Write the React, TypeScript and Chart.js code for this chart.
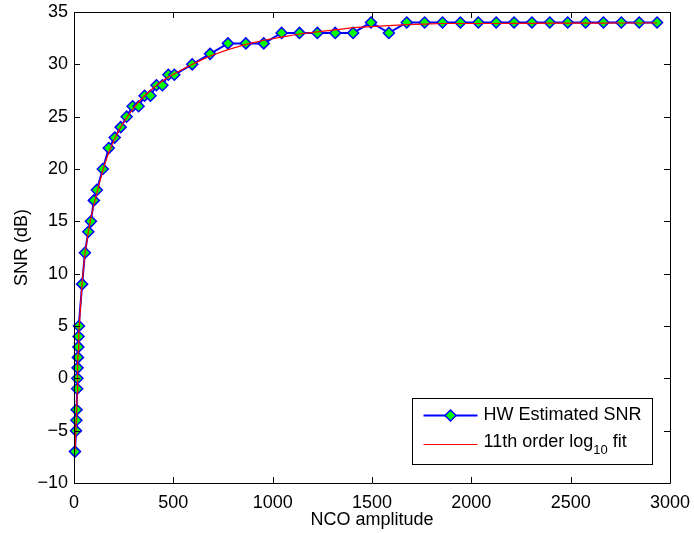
import React, { useEffect, useRef } from 'react';
import { Chart, registerables } from 'chart.js';

Chart.register(...registerables);

// NCO amplitude (x) and measured SNR (dB)
const snrX = [
  5, 10, 12, 13, 16, 17, 18, 20, 22, 23, 25,
  41, 55, 72, 85, 100, 115,
  145, 175, 205, 235, 265, 295, 325, 355, 385, 415, 445, 475, 505,
  595, 685, 775, 865, 955, 1045, 1135, 1225, 1315, 1405, 1495, 1585, 1675,
  1765, 1855, 1945, 2035, 2125, 2215, 2305, 2395, 2485, 2575, 2665, 2755, 2845, 2935,
];
const snrY = [
  -7, -5, -4, -3, -1, 0, 1, 2, 3, 4, 5,
  9, 12, 14, 15, 17, 18,
  20, 22, 23, 24, 25, 26, 26, 27, 27, 28, 28, 29, 29,
  30, 31, 32, 32, 32, 33, 33, 33, 33, 33, 34, 33, 34,
  34, 34, 34, 34, 34, 34, 34, 34, 34, 34, 34, 34, 34, 34,
];

// 11th order log10 fit
const fitX = snrX;
const fitY = [
  -7.0, -4.8, -3.8, -3.2, -1.4, -0.6, 0.1, 1.5, 2.7, 3.3, 4.3,
  9.2, 11.9, 14.0, 15.3, 16.6, 17.7,
  19.9, 21.6, 22.9, 24.0, 24.9, 25.7, 26.4, 27.0, 27.5, 28.0, 28.4, 28.8, 29.1,
  30.0, 30.8, 31.4, 31.9, 32.3, 32.6, 32.9, 33.1, 33.3, 33.5, 33.6, 33.7, 33.8,
  33.85, 33.9, 33.9, 33.9, 33.9, 33.92, 33.92, 33.93, 33.93, 33.94, 33.94, 33.95, 33.95, 33.95,
];

const xTicks = [0, 500, 1000, 1500, 2000, 2500, 3000];
const yTicks = [-10, -5, 0, 5, 10, 15, 20, 25, 30, 35];

const xTitle = 'NCO amplitude';
const yTitle = 'SNR (dB)';
const legendLabels = ['HW Estimated SNR', '11th order log', '10', ' fit'];

const FONT = '"Liberation Sans", Arial, Helvetica, sans-serif';

const boxPlugin = {
  id: 'matlabBox',
  afterDraw(chart: any) {
    const { ctx, chartArea: a, scales } = chart;
    const xs = scales.x;
    const ys = scales.y;
    ctx.save();
    ctx.strokeStyle = '#000';
    ctx.lineWidth = 1;
    ctx.beginPath();
    ctx.rect(Math.round(a.left) + 0.5, Math.round(a.top) + 0.5, Math.round(a.right - a.left), Math.round(a.bottom - a.top));
    ctx.stroke();
    const tl = 6;
    ctx.beginPath();
    xTicks.forEach((v) => {
      const px = Math.round(xs.getPixelForValue(v)) + 0.5;
      ctx.moveTo(px, a.bottom);
      ctx.lineTo(px, a.bottom - tl);
      ctx.moveTo(px, a.top);
      ctx.lineTo(px, a.top + tl);
    });
    yTicks.forEach((v) => {
      const py = Math.round(ys.getPixelForValue(v)) + 0.5;
      ctx.moveTo(a.left, py);
      ctx.lineTo(a.left + tl, py);
      ctx.moveTo(a.right, py);
      ctx.lineTo(a.right - tl, py);
    });
    ctx.stroke();

    // legend
    const lw = 240;
    const lh = 66;
    const lx = Math.round(a.right - 18 - lw) + 0.5;
    const ly = Math.round(a.bottom - 19 - lh) + 0.5;
    ctx.fillStyle = '#fff';
    ctx.fillRect(lx, ly, lw, lh);
    ctx.strokeStyle = '#000';
    ctx.strokeRect(lx, ly, lw, lh);
    const r1 = ly + 17;
    const r2 = ly + 46;
    const sx0 = lx + 11;
    const sx1 = lx + 65;
    ctx.strokeStyle = '#0000ff';
    ctx.lineWidth = 2;
    ctx.beginPath();
    ctx.moveTo(sx0, r1);
    ctx.lineTo(sx1, r1);
    ctx.stroke();
    const mx = (sx0 + sx1) / 2;
    const mr = 5.5;
    ctx.beginPath();
    ctx.moveTo(mx, r1 - mr);
    ctx.lineTo(mx + mr, r1);
    ctx.lineTo(mx, r1 + mr);
    ctx.lineTo(mx - mr, r1);
    ctx.closePath();
    ctx.fillStyle = '#00ff00';
    ctx.fill();
    ctx.lineWidth = 1.5;
    ctx.stroke();
    ctx.strokeStyle = '#ff0000';
    ctx.lineWidth = 1.2;
    ctx.beginPath();
    ctx.moveTo(sx0, r2);
    ctx.lineTo(sx1, r2);
    ctx.stroke();

    ctx.fillStyle = '#000';
    ctx.textBaseline = 'middle';
    ctx.textAlign = 'left';
    ctx.font = `18px ${FONT}`;
    const tx = lx + 71;
    ctx.fillText(legendLabels[0], tx, r1);
    ctx.fillText(legendLabels[1], tx, r2 - 2);
    let w = ctx.measureText(legendLabels[1]).width;
    ctx.font = `13px ${FONT}`;
    ctx.fillText(legendLabels[2], tx + w, r2 + 6);
    const w2 = ctx.measureText(legendLabels[2]).width;
    ctx.font = `18px ${FONT}`;
    ctx.fillText(legendLabels[3], tx + w + w2, r2 - 2);
    ctx.restore();
  },
};

export default function App() {
  const ref = useRef<HTMLCanvasElement | null>(null);

  useEffect(() => {
    document.body.style.margin = '0';
    const canvas = ref.current;
    if (!canvas) return;
    const chart = new Chart(canvas, {
      type: 'line',
      data: {
        datasets: [
          {
            label: 'fit',
            data: fitX.map((x, i) => ({ x, y: fitY[i] })),
            borderColor: '#ff0000',
            borderWidth: 1.2,
            pointRadius: 0,
            tension: 0,
            clip: false as any,
          },
          {
            label: 'HW Estimated SNR',
            data: snrX.map((x, i) => ({ x, y: snrY[i] })),
            borderColor: '#0000ff',
            borderWidth: 2,
            pointStyle: 'rectRot',
            pointRadius: 5.5,
            pointBackgroundColor: '#00ff00',
            pointBorderColor: '#0000ff',
            pointBorderWidth: 1.5,
            tension: 0,
            clip: false as any,
          },
        ],
      },
      options: {
        animation: false,
        responsive: false,
        devicePixelRatio: 1,
        layout: { padding: { top: 12, right: 24, left: 0, bottom: 0 } },
        plugins: {
          legend: { display: false },
          tooltip: { enabled: false },
        },
        scales: {
          x: {
            type: 'linear',
            min: 0,
            max: 3000,
            afterBuildTicks: (s: any) => {
              s.ticks = xTicks.map((v) => ({ value: v }));
            },
            afterFit: (s: any) => {
              s.height = 50;
              s.paddingLeft = 0;
              s.paddingRight = 0;
            },
            grid: { display: false, drawTicks: false },
            border: { display: false },
            ticks: {
              color: '#000',
              padding: 9,
              maxRotation: 0,
              font: { family: FONT, size: 18 },
              callback: (v: any) => String(v).replace('-', '\u2212'),
            },
            title: {
              display: true,
              text: xTitle,
              color: '#000',
              font: { family: FONT, size: 18 },
              padding: { top: 0, bottom: 2 },
            },
          },
          y: {
            type: 'linear',
            min: -10,
            max: 35,
            afterBuildTicks: (s: any) => {
              s.ticks = yTicks.map((v) => ({ value: v }));
            },
            afterFit: (s: any) => {
              s.width = 74;
              s.paddingTop = 0;
              s.paddingBottom = 0;
            },
            grid: { display: false, drawTicks: false },
            border: { display: false },
            ticks: {
              color: '#000',
              padding: 6,
              font: { family: FONT, size: 18 },
              callback: (v: any) => String(v).replace('-', '\u2212'),
            },
            title: {
              display: true,
              text: yTitle,
              color: '#000',
              font: { family: FONT, size: 18 },
              padding: { top: 11, bottom: 0 },
            },
          },
        },
      },
      plugins: [boxPlugin],
    });
    return () => chart.destroy();
  }, []);

  return <canvas ref={ref} width={694} height={533} style={{ display: 'block' }} />;
}
